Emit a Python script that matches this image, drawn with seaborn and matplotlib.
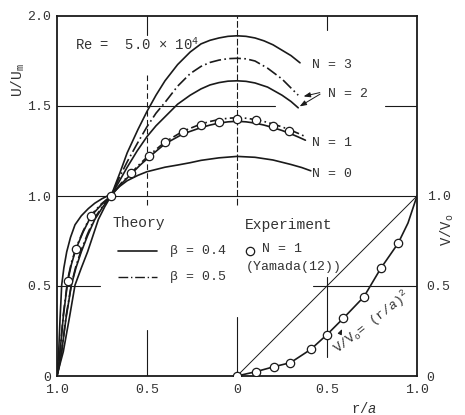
import numpy as np
import pandas as pd
import matplotlib
matplotlib.use("Agg")
import matplotlib.pyplot as plt
import seaborn as sns

# ---------------------------------------------------------------------------
# Data
# position: negative = left half (r/a from 1.0 at the wall to 0 at the axis),
#           positive = continuation into the right half
# ---------------------------------------------------------------------------
pos_n0 = [-1.0, -0.99, -0.983, -0.978, -0.974, -0.962, -0.946, -0.925, -0.90, -0.865,
          -0.826, -0.79, -0.75, -0.70, -0.65, -0.61, -0.55, -0.50, -0.40, -0.33,
          -0.26, -0.20, -0.10, 0.0, 0.10, 0.20, 0.30, 0.36, 0.41]
u_n0 = [0.0, 0.15, 0.32, 0.42, 0.505, 0.60, 0.69, 0.77, 0.84, 0.89,
        0.93, 0.96, 0.985, 1.01, 1.055, 1.085, 1.115, 1.135, 1.16, 1.172,
        1.185, 1.198, 1.212, 1.22, 1.215, 1.20, 1.175, 1.158, 1.14]

pos_n1 = [-1.0, -0.99, -0.983, -0.965, -0.94, -0.92, -0.895, -0.855, -0.81, -0.755,
          -0.70, -0.645, -0.59, -0.54, -0.49, -0.40, -0.30, -0.20, -0.15, -0.10,
          -0.05, 0.0, 0.05, 0.10, 0.15, 0.20, 0.25, 0.30, 0.34, 0.38]
u_n1_b4 = [0.0, 0.07, 0.135, 0.33, 0.53, 0.62, 0.705, 0.80, 0.89, 0.95,
           1.0, 1.065, 1.12, 1.17, 1.215, 1.29, 1.345, 1.38, 1.394, 1.405,
           1.412, 1.415, 1.412, 1.405, 1.394, 1.38, 1.364, 1.345, 1.328, 1.31]
u_n1_b5 = [0.0, 0.075, 0.14, 0.34, 0.54, 0.63, 0.71, 0.805, 0.895, 0.955,
           1.0, 1.07, 1.125, 1.178, 1.225, 1.30, 1.36, 1.40, 1.414, 1.425,
           1.432, 1.435, 1.432, 1.425, 1.414, 1.40, 1.384, 1.365, 1.348, 1.33]

pos_n2 = [-1.0, -0.985, -0.974, -0.95, -0.92, -0.895, -0.865, -0.83, -0.79, -0.745,
          -0.70, -0.655, -0.61, -0.555, -0.50, -0.45, -0.40, -0.33, -0.26, -0.20,
          -0.15, -0.10, -0.05, 0.0, 0.05, 0.10, 0.17, 0.25, 0.30, 0.34]
u_n2_b4 = [0.0, 0.07, 0.135, 0.32, 0.505, 0.60, 0.69, 0.78, 0.87, 0.94,
           1.0, 1.08, 1.16, 1.25, 1.33, 1.39, 1.44, 1.51, 1.56, 1.595,
           1.617, 1.63, 1.638, 1.64, 1.637, 1.628, 1.605, 1.56, 1.525, 1.49]
u_n2_b5 = [0.0, 0.07, 0.135, 0.33, 0.51, 0.61, 0.70, 0.79, 0.88, 0.945,
           1.0, 1.10, 1.19, 1.29, 1.385, 1.46, 1.52, 1.61, 1.68, 1.72,
           1.742, 1.755, 1.763, 1.765, 1.762, 1.75, 1.71, 1.65, 1.60, 1.56]

pos_n3 = [-1.0, -0.985, -0.965, -0.93, -0.90, -0.865, -0.83, -0.80, -0.77, -0.735,
          -0.70, -0.65, -0.61, -0.55, -0.50, -0.45, -0.40, -0.33, -0.26, -0.20,
          -0.15, -0.10, -0.05, 0.0, 0.05, 0.10, 0.15, 0.20, 0.25, 0.30, 0.35]
u_n3 = [0.0, 0.06, 0.135, 0.33, 0.505, 0.60, 0.69, 0.78, 0.87, 0.94,
        1.0, 1.13, 1.24, 1.37, 1.47, 1.56, 1.64, 1.73, 1.80, 1.845,
        1.865, 1.878, 1.887, 1.89, 1.887, 1.878, 1.862, 1.84, 1.81, 1.78, 1.74]

# experiment N = 1 (Yamada), axial velocity
pos_exp = [-0.94, -0.895, -0.81, -0.70, -0.587, -0.49, -0.40, -0.30, -0.20, -0.10,
           0.0, 0.105, 0.20, 0.29]
u_exp = [0.53, 0.705, 0.89, 1.0, 1.125, 1.22, 1.30, 1.356, 1.394, 1.413,
         1.43, 1.42, 1.39, 1.36]

# swirl velocity V/Vo vs r/a (right half, lower part)
r_swirl = [0.0, 0.105, 0.207, 0.297, 0.41, 0.50, 0.59, 0.705, 0.80, 0.895, 0.95, 1.0]
v_swirl = [0.0, 0.024, 0.052, 0.074, 0.148, 0.23, 0.32, 0.44, 0.60, 0.737, 0.85, 1.0]
r_swirl_exp = [0.0, 0.105, 0.207, 0.297, 0.41, 0.50, 0.59, 0.705, 0.80, 0.895]
v_swirl_exp = [0.0, 0.024, 0.052, 0.074, 0.148, 0.23, 0.32, 0.44, 0.60, 0.737]
r_diag = [0.0, 1.0]
v_diag = [0.0, 1.0]

x_ticks = [-1.0, -0.5, 0.0, 0.5, 1.0]
x_ticklabels = ["1.0", "0.5", "0", "0.5", "1.0"]
y_ticks = [0.0, 0.5, 1.0, 1.5, 2.0]
y_ticklabels = ["0", "0.5", "1.0", "1.5", "2.0"]
y2_ticks = [0.0, 0.5, 1.0]
y2_ticklabels = ["0", "0.5", "1.0"]

# ---------------------------------------------------------------------------
# Style
# ---------------------------------------------------------------------------
sns.set_style("white")
plt.rcParams["font.family"] = ["Liberation Mono", "DejaVu Sans Mono"]
plt.rcParams["mathtext.fontset"] = "custom"
plt.rcParams["mathtext.rm"] = "Liberation Mono"
plt.rcParams["mathtext.it"] = "Liberation Mono:italic"
plt.rcParams["mathtext.default"] = "rm"

INK = "#1a1a1a"
TXT = "#333333"

theory = pd.concat([
    pd.DataFrame({"pos": pos_n0, "U": u_n0, "N": "0", "beta": "0.4"}),
    pd.DataFrame({"pos": pos_n1, "U": u_n1_b4, "N": "1", "beta": "0.4"}),
    pd.DataFrame({"pos": pos_n1, "U": u_n1_b5, "N": "1", "beta": "0.5"}),
    pd.DataFrame({"pos": pos_n2, "U": u_n2_b4, "N": "2", "beta": "0.4"}),
    pd.DataFrame({"pos": pos_n2, "U": u_n2_b5, "N": "2", "beta": "0.5"}),
    pd.DataFrame({"pos": pos_n3, "U": u_n3, "N": "3", "beta": "0.4"}),
], ignore_index=True)
theory["curve"] = theory["N"] + "_" + theory["beta"]

fig = plt.figure(figsize=(4.65, 4.15), dpi=100)
ax = fig.add_axes([57 / 465, 39 / 415, 360 / 465, 360 / 415])

dashdot = (7, 2, 1, 2)
sns.lineplot(data=theory, x="pos", y="U", units="curve", estimator=None, sort=False,
             style="beta", dashes={"0.4": "", "0.5": dashdot},
             color=INK, linewidth=1.2, legend=False, ax=ax)

# swirl profile
sns.lineplot(x=r_diag, y=v_diag, sort=False, color=INK, linewidth=0.7, ax=ax)
sns.lineplot(x=r_swirl, y=v_swirl, sort=False, color=INK, linewidth=1.2, ax=ax)

# experimental points
sns.scatterplot(x=pos_exp, y=u_exp, s=36, color="white", edgecolor=INK,
                linewidth=0.9, zorder=5, ax=ax)
sns.scatterplot(x=r_swirl_exp, y=v_swirl_exp, s=36, color="white", edgecolor=INK,
                linewidth=0.9, zorder=5, ax=ax)

ax.set_xlim(-1, 1)
ax.set_ylim(0, 2)
ax.set_xlabel("")
ax.set_ylabel("")
ax.set_xticks(x_ticks)
ax.set_xticklabels(x_ticklabels)
ax.set_yticks(y_ticks)
ax.set_yticklabels(y_ticklabels)
ax.tick_params(length=0, labelsize=9.5, labelcolor=TXT)
ax.tick_params(axis="x", pad=6)
ax.tick_params(axis="y", pad=4)
for sp in ax.spines.values():
    sp.set_color(INK)
    sp.set_linewidth(1.3)

ax2 = ax.twinx()
ax2.set_ylim(0, 2)
ax2.set_yticks(y2_ticks)
ax2.set_yticklabels(y2_ticklabels)
ax2.tick_params(length=0, labelsize=9.5, labelcolor=TXT, pad=7)
for sp in ax2.spines.values():
    sp.set_visible(False)

# broken grid lines, as in the drawing
gkw = dict(color=INK, linewidth=0.8, zorder=1)
ax.axhline(1.0, 0, 1, **gkw)
ax.axhline(1.5, 0, 0.606, **gkw)
ax.axhline(1.5, 0.911, 1.0, **gkw)
ax.axhline(0.5, 0, 0.12, **gkw)
ax.axhline(0.5, 0.711, 1.0, **gkw)
ax.axvline(-0.5, 0.947, 1.0, **gkw)
ax.axvline(-0.5, 0.475, 0.842, linestyle=(0, (5, 3)), **gkw)
ax.axvline(-0.5, 0.0, 0.128, **gkw)
ax.axvline(0.0, 0.475, 1.0, linestyle=(0, (6, 2)), **gkw)
ax.axvline(0.0, 0.0, 0.164, **gkw)
ax.axvline(0.5, 0.961, 1.0, **gkw)
ax.axvline(0.5, 0.053, 0.275, **gkw)

# annotations
tkw = dict(color=TXT, va="center")
ax.text(-0.9, 1.84, "Re =  5.0 \u00d7 10$^4$", fontsize=10, ha="left", **tkw)
ax.text(0.417, 1.728, "N = 3", fontsize=9.5, ha="left", **tkw)
ax.text(0.506, 1.567, "N = 2", fontsize=9.5, ha="left", **tkw)
ax.text(0.417, 1.294, "N = 1", fontsize=9.5, ha="left", **tkw)
ax.text(0.417, 1.122, "N = 0", fontsize=9.5, ha="left", **tkw)
akw = dict(arrowstyle="-|>,head_length=0.4,head_width=0.15", color=INK, lw=0.7)
ax.annotate("", xy=(0.355, 1.55), xytext=(0.475, 1.578), arrowprops=akw)
ax.annotate("", xy=(0.335, 1.49), xytext=(0.475, 1.574), arrowprops=akw)

ax.text(-0.689, 0.85, "Theory", fontsize=10.5, ha="left", **tkw)
ax.plot([-0.661, -0.444], [0.694, 0.694], color=INK, lw=1.2)
ax.text(-0.372, 0.694, "\u03b2 = 0.4", fontsize=9.5, ha="left", **tkw)
ax.plot([-0.661, -0.444], [0.55, 0.55], color=INK, lw=1.0, dashes=dashdot)
ax.text(-0.372, 0.55, "\u03b2 = 0.5", fontsize=9.5, ha="left", **tkw)

ax.text(0.044, 0.839, "Experiment", fontsize=10.5, ha="left", **tkw)
ax.scatter([0.072], [0.694], s=36, facecolor="white", edgecolor=INK, linewidth=0.9)
ax.text(0.139, 0.706, "N = 1", fontsize=9.5, ha="left", **tkw)
ax.text(0.05, 0.606, "(Yamada(12))", fontsize=9.5, ha="left", **tkw)

ax.text(0.75, 0.30, "V/V$_o$= (r/$\\mathit{a}$)$^2$", fontsize=9.5, ha="center",
        rotation=38, rotation_mode="anchor", **tkw)
ax.annotate("", xy=(0.59, 0.275), xytext=(0.572, 0.235),
            arrowprops=dict(arrowstyle="-|>,head_length=0.3,head_width=0.12",
                            color=INK, lw=0.7))

ax.text(-1.217, 1.644, "U/U$_m$", fontsize=10.5, ha="center", rotation=90,
        clip_on=False, **tkw)
ax.text(1.167, 0.811, "V/V$_o$", fontsize=10, ha="center", rotation=90,
        clip_on=False, **tkw)
ax.text(0.706, -0.178, "r/$\\mathit{a}$", fontsize=10, ha="center",
        clip_on=False, **tkw)

fig.savefig("out.png", dpi=100)
plt.close(fig)
